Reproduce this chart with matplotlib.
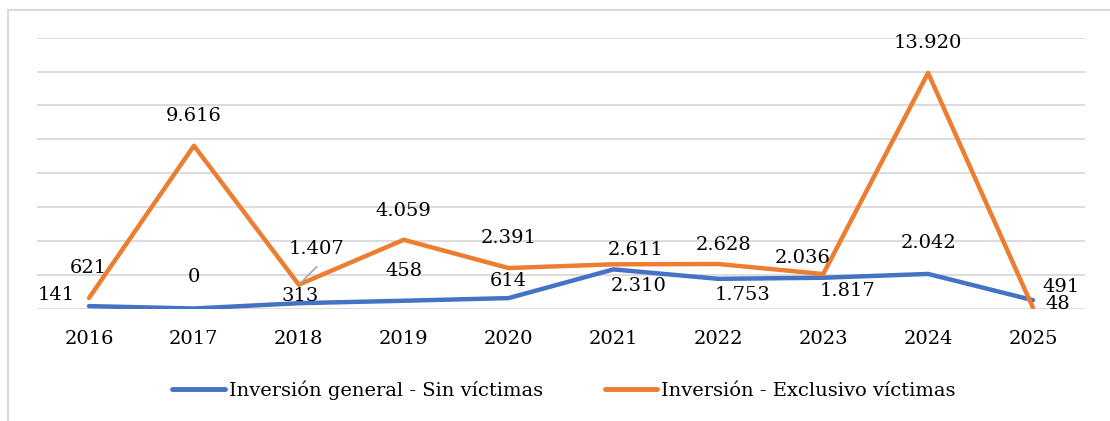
import matplotlib
matplotlib.use("Agg")
import matplotlib.pyplot as plt
from matplotlib.lines import Line2D

# ── data ──
years = ["2016", "2017", "2018", "2019", "2020", "2021", "2022", "2023", "2024", "2025"]
general_sin_victimas = [141, 0, 313, 458, 614, 2310, 1753, 1817, 2042, 491]
exclusivo_victimas = [621, 9616, 1407, 4059, 2391, 2611, 2628, 2036, 13920, 48]
series_names = ["Inversión general - Sin víctimas", "Inversión - Exclusivo víctimas"]

BLUE = "#4472C4"
ORANGE = "#ED7D31"
GRID = "#D9D9D9"

# label offsets (pixels) for each point, as Excel placed them
blue_offsets = [(-33, 11), (0, 31), (1, 7), (0, 30), (0, 17),
                (25, -17), (24, -16), (24, -13), (0, 31), (28, 13)]
orange_offsets = [(-1, 30), (0, 30), (18, 36), (0, 29), (0, 30),
                  (22, 14), (5, 19), (-21, 16), (0, 30), (25, 4)]

plt.rcParams["font.family"] = ["DejaVu Serif"]


def fmt(v):
    return f"{v:,}".replace(",", ".")


fig = plt.figure(figsize=(11.1, 4.21), dpi=100)
ax = fig.add_axes([36.6 / 1110, 1 - 308.5 / 421, (1085.4 - 36.6) / 1110, (308.5 - 37.7) / 421])

x = list(range(len(years)))
ax.plot(x, general_sin_victimas, color=BLUE, lw=3.2, solid_capstyle="round", zorder=3)
ax.plot(x, exclusivo_victimas, color=ORANGE, lw=3.2, solid_capstyle="round", zorder=4)

ax.set_xlim(-0.5, len(years) - 0.5)
ax.set_ylim(0, 16000)
ax.set_yticks(range(0, 16001, 2000))
ax.set_yticklabels([])
ax.set_xticks(x)
ax.set_xticklabels(years, fontsize=14)
ax.tick_params(axis="both", length=0)
ax.tick_params(axis="x", pad=15.5)
ax.grid(axis="y", color=GRID, lw=1.3)
ax.set_axisbelow(True)
for s in ax.spines.values():
    s.set_visible(False)

for i, v in enumerate(general_sin_victimas):
    ax.annotate(fmt(v), (i, v), xytext=blue_offsets[i], textcoords="offset pixels",
                ha="center", va="center", fontsize=14, zorder=5)

for i, v in enumerate(exclusivo_victimas):
    ax.annotate(fmt(v), (i, v), xytext=orange_offsets[i], textcoords="offset pixels",
                ha="center", va="center", fontsize=14, zorder=5)

# leader line for the 2018 orange label
i18 = years.index("2018")
ax.annotate("", (i18, exclusivo_victimas[i18]), xytext=(18, 18), textcoords="offset pixels",
            arrowprops=dict(arrowstyle="-", color="#A6A6A6", lw=1.2, shrinkA=0, shrinkB=1),
            zorder=5)

# legend
handles = [Line2D([], [], color=BLUE, lw=3.5, solid_capstyle="round"),
           Line2D([], [], color=ORANGE, lw=3.5, solid_capstyle="round")]
fig.legend(handles, series_names, loc="center", bbox_to_anchor=(564 / 1110, 1 - 390 / 421),
           ncol=2, frameon=False, fontsize=14, handlelength=2.7, handletextpad=0.2,
           columnspacing=3.2)

# chart border (cropped on the right and bottom)
fig.add_artist(Line2D([8 / 1110, 8 / 1110], [0, 1 - 10 / 421], color=GRID, lw=1.5,
                      transform=fig.transFigure))
fig.add_artist(Line2D([8 / 1110, 1], [1 - 10 / 421, 1 - 10 / 421], color=GRID, lw=1.5,
                      transform=fig.transFigure))

fig.savefig("out.png", dpi=100)
plt.close(fig)
